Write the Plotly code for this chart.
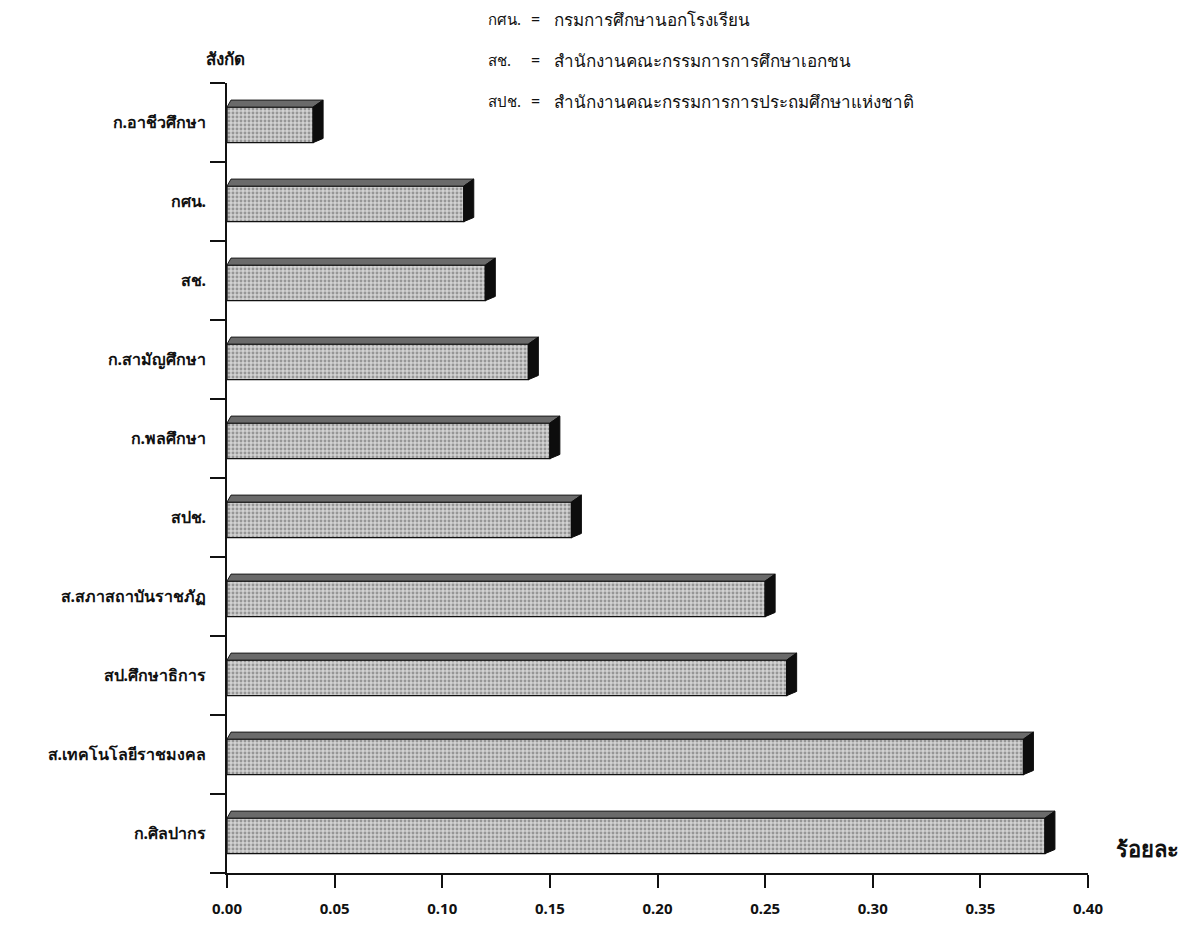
import plotly.graph_objects as go

# ---- data (top to bottom as in the chart) ----
categories = [
    "ก.อาชีวศึกษา",
    "กศน.",
    "สช.",
    "ก.สามัญศึกษา",
    "ก.พลศึกษา",
    "สปช.",
    "ส.สภาสถาบันราชภัฏ",
    "สป.ศึกษาธิการ",
    "ส.เทคโนโลยีราชมงคล",
    "ก.ศิลปากร",
]
values = [0.04, 0.11, 0.12, 0.14, 0.15, 0.16, 0.25, 0.26, 0.37, 0.38]
x_ticks = [0.00, 0.05, 0.10, 0.15, 0.20, 0.25, 0.30, 0.35, 0.40]
abbr_keys = ["กศน.", "สช.", "สปช."]
abbr_defs = [
    "กรมการศึกษานอกโรงเรียน",
    "สำนักงานคณะกรรมการการศึกษาเอกชน",
    "สำนักงานคณะกรรมการการประถมศึกษาแห่งชาติ",
]

W, H = 1182, 921
OFF = 8  # page body margin
# plot area in page pixels: x 227..1088, y 83..873
L, T = 227 - OFF, 83 - OFF
R = W - (1088 - OFF)
B = H - (873 - OFF)
PW, PH = W - L - R, H - T - B
n = len(categories)
XMAX = 0.40

def px(xp):
    return (xp - OFF - L) / PW

def py(yp):
    return (H - B - (yp - OFF)) / PH

FONT = "Noto Sans, DejaVu Sans, sans-serif"

pos = [n - 1 - i for i in range(n)]  # top category highest
half = 0.225
shift = -0.03
dx = XMAX / PW * 10   # depth in x (10 px)
dy = 1.0 / (PH / n) * 7  # depth in y (7 px)

fig = go.Figure()

# front faces
fig.add_trace(go.Bar(
    x=values, y=[p + shift for p in pos], orientation="h", width=2 * half,
    marker=dict(color="#d2d2d2",
                line=dict(color="#111", width=1.3),
                pattern=dict(shape=".", fgcolor="#5a5a5a", bgcolor="#d2d2d2",
                             size=4, solidity=0.42)),
    hoverinfo="skip", showlegend=False,
))

# top faces and side faces (3D look)
tx, ty, sx, sy = [], [], [], []
for v, p in zip(values, pos):
    yt = p + shift + half
    yb = p + shift - half
    tx += [0, v, v + dx, 0 + dx * 0.4, 0, None]
    ty += [yt, yt, yt + dy, yt + dy, yt, None]
    sx += [v, v + dx, v + dx, v, v, None]
    sy += [yb, yb + dy * 0.6, yt + dy, yt, yb, None]

fig.add_trace(go.Scatter(
    x=tx, y=ty, mode="lines", fill="toself", fillcolor="#6a6a6a",
    line=dict(color="#1a1a1a", width=1), hoverinfo="skip", showlegend=False,
))
fig.add_trace(go.Scatter(
    x=sx, y=sy, mode="lines", fill="toself", fillcolor="#0d0d0d",
    line=dict(color="#0d0d0d", width=1), hoverinfo="skip", showlegend=False,
))
# invisible trace to activate yaxis2 for category labels
fig.add_trace(go.Scatter(x=[0] * n, y=pos, yaxis="y2", mode="markers",
                         marker=dict(opacity=0), hoverinfo="skip", showlegend=False))

fig.update_layout(
    width=W, height=H,
    margin=dict(l=L, r=R, t=T, b=B, autoexpand=False),
    paper_bgcolor="white", plot_bgcolor="white",
    font=dict(family=FONT, color="#111"),
    xaxis=dict(range=[0, XMAX], tickvals=x_ticks,
               ticktext=["<b>%.2f</b>" % t for t in x_ticks],
               showgrid=False, zeroline=False, showline=True,
               linecolor="#111", linewidth=2.2, ticks="outside",
               ticklen=13, tickwidth=2.2, tickcolor="#111",
               tickfont=dict(size=15, family=FONT), ticklabelstandoff=8),
    yaxis=dict(range=[-0.5, n - 0.5], tickvals=[k - 0.5 for k in range(n + 1)],
               ticktext=[""] * (n + 1), showgrid=False, zeroline=False,
               showline=True, linecolor="#111", linewidth=2.2,
               ticks="outside", ticklen=15, tickwidth=2.2, tickcolor="#111"),
    yaxis2=dict(range=[-0.5, n - 0.5], overlaying="y", side="left",
                tickvals=pos, ticktext=["<b>%s</b>" % c for c in categories],
                showgrid=False, zeroline=False, showline=False, ticks="",
                tickfont=dict(size=16, family=FONT), ticklabelstandoff=20),
)

annotations = [
    dict(text="<b>สังกัด</b>", x=px(225), y=py(58), xanchor="center", yanchor="middle",
         font=dict(size=17, family=FONT)),
    dict(text="<b>ร้อยละ</b>", x=px(1147), y=py(848), xanchor="center", yanchor="middle",
         font=dict(size=22, family=FONT)),
]
for k, (a, d) in enumerate(zip(abbr_keys, abbr_defs)):
    yy = py(19 + k * 41)
    annotations.append(dict(text=a, x=px(486), y=yy, xanchor="left", yanchor="middle",
                            font=dict(size=15, family=FONT)))
    annotations.append(dict(text="=", x=px(535), y=yy, xanchor="center", yanchor="middle",
                            font=dict(size=16, family=FONT)))
    annotations.append(dict(text=d, x=px(552), y=yy, xanchor="left", yanchor="middle",
                            font=dict(size=17, family=FONT)))
for a in annotations:
    a.update(xref="paper", yref="paper", showarrow=False)
fig.update_layout(annotations=annotations)

fig.write_html("out.html")
